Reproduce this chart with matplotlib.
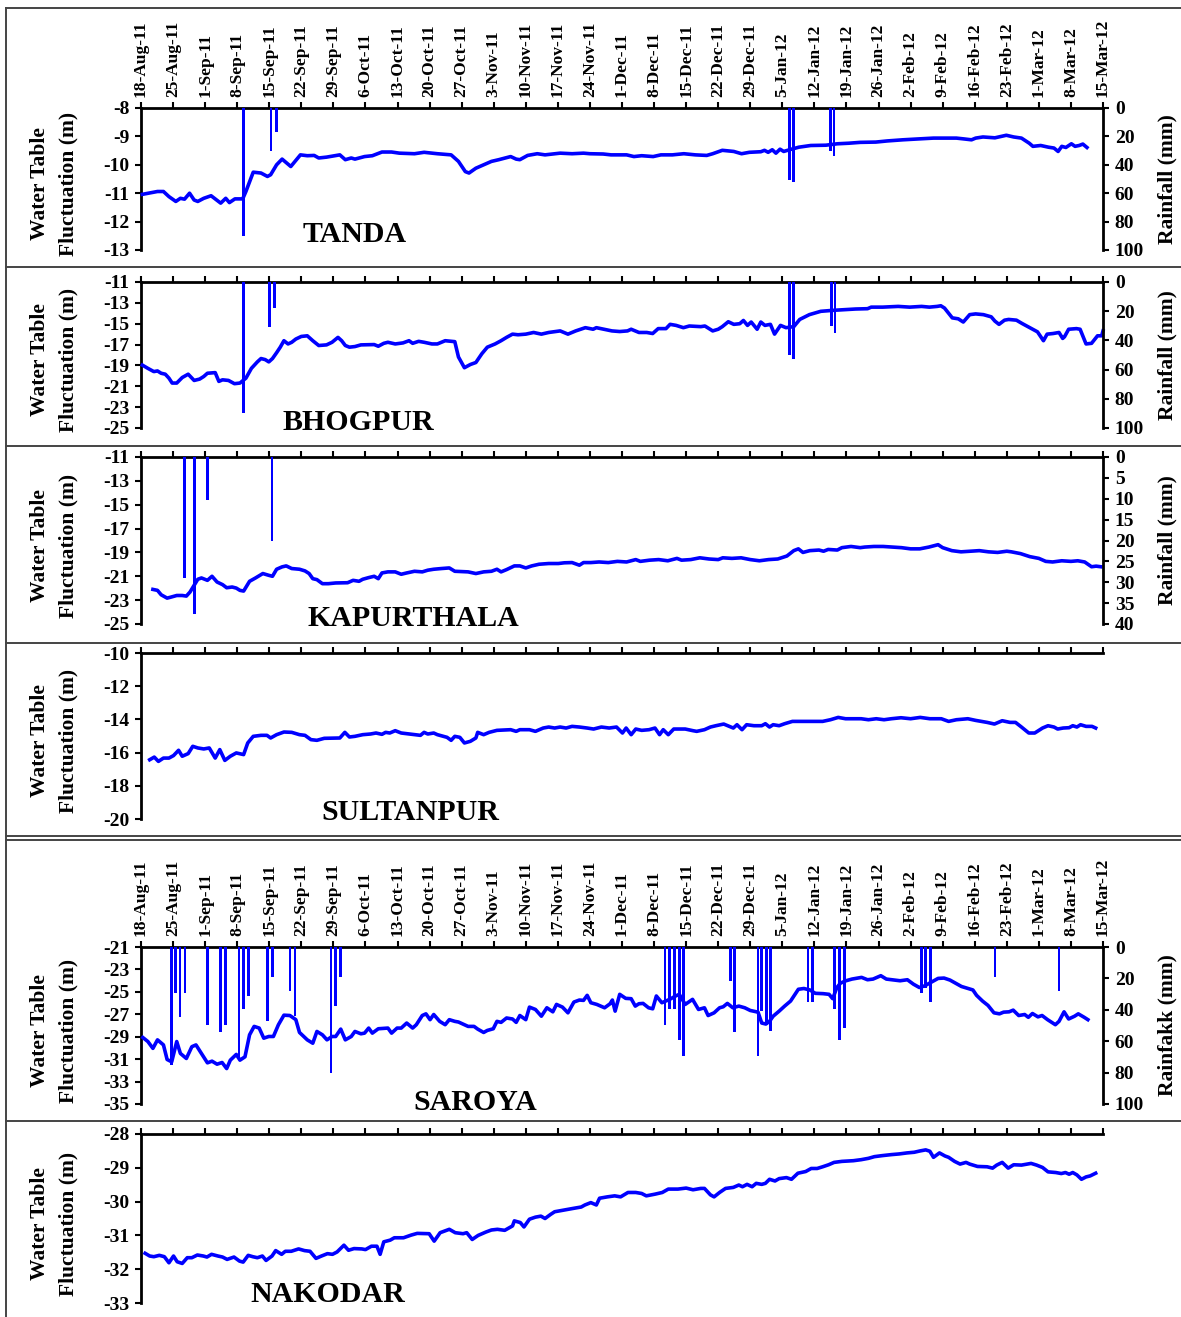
import numpy as np
import matplotlib
matplotlib.use("Agg")
import matplotlib.pyplot as plt
from matplotlib.lines import Line2D

# weekly date ticks (days counted from 18-Aug-2011)
week_labels = ["18-Aug-11", "25-Aug-11", "1-Sep-11", "8-Sep-11", "15-Sep-11", "22-Sep-11",
               "29-Sep-11", "6-Oct-11", "13-Oct-11", "20-Oct-11", "27-Oct-11", "3-Nov-11",
               "10-Nov-11", "17-Nov-11", "24-Nov-11", "1-Dec-11", "8-Dec-11", "15-Dec-11",
               "22-Dec-11", "29-Dec-11", "5-Jan-12", "12-Jan-12", "19-Jan-12", "26-Jan-12",
               "2-Feb-12", "9-Feb-12", "16-Feb-12", "23-Feb-12", "1-Mar-12", "8-Mar-12",
               "15-Mar-12"]
week_days = [7 * i for i in range(len(week_labels))]

# ---- TANDA ----
tanda_day = [0.3, 3.6, 4.9, 6.1, 7.6, 8.6, 9.5, 10.6, 11.6, 12.4, 13.7, 15.3, 17.4, 18.5, 19.3, 20.5,
             22.2, 22.9, 24.5, 26.2, 27.6, 28.3, 29.6, 30.8, 32.7, 34.8, 36.3, 37.8, 38.8, 40.5, 43.4,
             44.6, 45.9, 46.7, 48.8, 50.5, 52.6, 54.7, 56.4, 59.7, 61.8, 64.7, 67.7, 69.3, 70.8, 71.6,
             73.1, 74.8, 76.5, 78.1, 80.7, 81.9, 82.7, 84.4, 86.5, 88.2, 91.5, 94.1, 96.6, 98.0, 100.9,
             102.6, 106.0, 107.6, 109.3, 111.8, 113.5, 116.0, 118.5, 121.0, 123.5, 124.8, 126.9, 129.4,
             131.1, 132.8, 135.3, 136.1, 136.9, 137.8, 138.6, 139.5, 140.3, 142.0, 143.6, 146.2, 149.5,
             152.0, 154.5, 157.0, 160.4, 162.9, 166.3, 169.6, 173.0, 178.0, 179.7, 181.3, 182.2, 183.8,
             186.4, 188.9, 190.5, 192.2, 193.9, 194.7, 196.4, 198.1, 199.3, 200.2, 201.0, 201.9, 203.1,
             203.9, 204.8, 205.6, 206.5]
tanda_wt = [-11.04, -10.94, -10.94, -11.12, -11.29, -11.18, -11.21, -11.00, -11.24, -11.29, -11.18,
            -11.09, -11.35, -11.18, -11.33, -11.20, -11.20, -10.94, -10.26, -10.29, -10.41, -10.35,
            -10.00, -9.80, -10.06, -9.65, -9.68, -9.67, -9.76, -9.73, -9.65, -9.82, -9.76, -9.80,
            -9.71, -9.68, -9.55, -9.55, -9.59, -9.61, -9.56, -9.61, -9.65, -9.88, -10.24, -10.29,
            -10.12, -10.00, -9.88, -9.82, -9.71, -9.80, -9.82, -9.67, -9.61, -9.65, -9.59, -9.61,
            -9.59, -9.61, -9.62, -9.65, -9.65, -9.71, -9.68, -9.71, -9.65, -9.65, -9.61, -9.65,
            -9.67, -9.61, -9.49, -9.53, -9.61, -9.56, -9.54, -9.49, -9.56, -9.47, -9.59, -9.45,
            -9.53, -9.45, -9.38, -9.32, -9.31, -9.26, -9.24, -9.21, -9.20, -9.16, -9.12, -9.09,
            -9.06, -9.06, -9.09, -9.12, -9.06, -9.02, -9.05, -8.96, -9.02, -9.06, -9.24, -9.35,
            -9.32, -9.38, -9.41, -9.53, -9.35, -9.39, -9.26, -9.35, -9.32, -9.27, -9.39]
tanda_rain_day = [22.4, 28.4, 29.6, 141.5, 142.4, 150.5, 151.3]
tanda_rain = [90, 30, 17, 50.6, 52, 30, 34]

# ---- BHOGPUR ----
bhog_day = [0.3, 1.5, 2.8, 3.6, 4.4, 5.3, 6.1, 6.8, 7.8, 9.0, 10.3, 11.6, 12.8, 13.7, 14.5, 16.2,
            17.0, 17.8, 19.1, 20.4, 21.6, 22.9, 24.1, 25.4, 26.2, 27.1, 27.9, 28.7, 29.6, 30.4, 31.2,
            32.1, 32.9, 33.8, 35.0, 36.3, 37.5, 38.8, 40.5, 41.7, 43.0, 43.8, 44.6, 45.5, 46.7, 48.0,
            50.9, 51.8, 53.0, 53.9, 55.5, 57.2, 58.5, 59.3, 60.6, 61.8, 63.5, 64.7, 66.4, 68.5, 69.3,
            70.6, 71.9, 73.1, 74.4, 75.6, 77.3, 78.6, 79.8, 81.1, 82.3, 84.0, 85.7, 87.4, 89.0, 91.5,
            93.2, 94.9, 97.0, 98.7, 99.4, 101.1, 102.8, 104.5, 106.2, 107.0, 108.7, 110.4, 111.7,
            112.9, 114.6, 115.5, 116.8, 118.4, 119.7, 122.2, 123.1, 124.8, 126.0, 126.9, 128.2,
            129.4, 130.7, 131.5, 132.4, 133.2, 134.5, 135.3, 136.2, 137.4, 138.3, 139.6, 140.8,
            142.5, 143.8, 145.9, 148.4, 151.0, 153.5, 156.0, 158.6, 159.4, 161.9, 165.3, 167.8,
            170.4, 172.1, 173.8, 174.6, 175.4, 177.1, 178.4, 179.5, 180.9, 182.2, 183.9, 185.6,
            186.4, 187.3, 188.5, 189.4, 191.1, 192.3, 194.0, 195.7, 197.0, 197.8, 199.1, 200.4,
            201.2, 201.6, 202.5, 204.2, 205.0, 206.3, 207.5, 208.8, 209.7, 210.0]
bhog_wt = [-18.97, -19.28, -19.59, -19.53, -19.75, -19.84, -20.22, -20.69, -20.69, -20.16,
           -19.84, -20.44, -20.31, -20.06, -19.75, -19.69, -20.53, -20.38, -20.44, -20.75,
           -20.69, -20.22, -19.28, -18.66, -18.34, -18.44, -18.66, -18.34, -17.78, -17.25,
           -16.63, -16.94, -16.78, -16.47, -16.22, -16.16, -16.63, -17.09, -17.03, -16.78,
           -16.31, -16.63, -17.09, -17.25, -17.19, -17.03, -17.00, -17.16, -16.88, -16.78,
           -16.94, -16.84, -16.63, -16.88, -16.69, -16.78, -16.94, -16.94, -16.63, -16.72,
           -18.19, -19.22, -18.91, -18.72, -17.88, -17.25, -16.94, -16.63, -16.31, -16.00,
           -16.06, -16.00, -15.84, -16.00, -15.84, -15.69, -16.00, -15.69, -15.38, -15.53,
           -15.38, -15.53, -15.69, -15.75, -15.69, -15.53, -15.84, -15.84, -15.94, -15.47,
           -15.47, -15.06, -15.16, -15.38, -15.22, -15.28, -15.22, -15.69, -15.53, -15.28,
           -14.81, -15.06, -15.00, -14.69, -15.16, -14.84, -15.53, -14.84, -15.16, -15.06,
           -16.00, -15.16, -15.38, -15.28, -14.59, -14.13, -13.81, -13.72, -13.66, -13.59,
           -13.56, -13.41, -13.41, -13.34, -13.41, -13.34, -13.41, -13.34, -13.28, -13.50,
           -14.44, -14.53, -14.84, -14.13, -14.06, -14.13, -14.34, -14.75, -15.06, -14.66,
           -14.59, -14.66, -14.97, -15.38, -15.78, -16.63, -16.00, -15.94, -15.84, -16.41,
           -16.25, -15.53, -15.47, -15.53, -16.94, -16.88, -16.16, -16.16, -15.69]
bhog_rain_day = [22.4, 28.1, 29.1, 141.5, 142.5, 150.7, 151.5]
bhog_rain = [89.5, 30.6, 17.9, 50.3, 52.6, 30.2, 34.7]

# ---- KAPURTHALA ----
kap_day = [2.6, 3.6, 4.4, 5.7, 6.5, 7.8, 9.0, 9.9, 10.7, 11.6, 12.4, 13.2, 14.5, 15.5, 16.6, 17.8,
           18.7, 19.9, 20.8, 21.6, 22.4, 23.7, 25.0, 26.6, 27.9, 28.7, 29.6, 30.8, 31.7, 32.9, 34.6,
           35.8, 36.7, 37.5, 38.4, 39.6, 40.9, 42.5, 45.1, 46.3, 47.6, 48.4, 49.7, 50.9, 51.8, 52.6,
           53.9, 55.5, 56.8, 58.0, 59.7, 61.4, 62.6, 63.9, 65.6, 67.3, 68.5, 71.4, 73.1, 74.8, 76.5,
           77.7, 78.6, 79.8, 81.5, 82.7, 84.0, 85.3, 86.9, 89.0, 91.1, 92.4, 94.1, 95.7, 96.6, 98.2,
           100, 102, 104, 106, 108, 109, 111, 113, 115, 117, 118, 120, 122, 124, 126, 127, 129, 131,
           133, 135, 137, 139, 141, 142.5, 143.5, 144.5, 146, 148, 149, 150, 152, 153, 155, 157,
           158, 160, 162, 164, 166, 168, 170, 172, 174, 175, 177, 179, 181, 183, 185, 187, 189,
           190, 192, 194, 196, 197.5, 199, 201, 203, 204.5, 206, 207.5, 208.5, 209.5]
kap_wt = [-22.10, -22.18, -22.55, -22.83, -22.75, -22.61, -22.61, -22.66, -22.32, -21.76,
          -21.25, -21.14, -21.34, -21.00, -21.48, -21.70, -21.96, -21.90, -21.99, -22.18,
          -22.24, -21.42, -21.14, -20.77, -20.92, -21.00, -20.41, -20.21, -20.13, -20.35,
          -20.41, -20.55, -20.77, -21.20, -21.28, -21.62, -21.62, -21.56, -21.54, -21.34,
          -21.42, -21.25, -21.11, -21.00, -21.20, -20.72, -20.63, -20.63, -20.83, -20.72,
          -20.58, -20.63, -20.49, -20.41, -20.35, -20.30, -20.58, -20.63, -20.77, -20.63,
          -20.58, -20.41, -20.63, -20.44, -20.13, -20.13, -20.30, -20.13, -19.99, -19.93,
          -19.93, -19.87, -19.85, -20.07, -19.85, -19.85,
          -19.8, -19.85, -19.75, -19.8, -19.6, -19.75, -19.65, -19.6, -19.7, -19.5,
          -19.65, -19.6, -19.45, -19.55, -19.6, -19.45, -19.5, -19.45, -19.6, -19.7,
          -19.6, -19.55, -19.3, -18.85, -18.7, -19.0, -18.85, -18.8, -18.9, -18.75,
          -18.8, -18.6, -18.5, -18.6, -18.55, -18.5, -18.5, -18.55, -18.6, -18.7,
          -18.7, -18.55, -18.35, -18.6, -18.85, -18.95, -18.9, -18.85, -18.95, -19.0,
          -18.9, -18.95, -19.1, -19.35, -19.5, -19.75, -19.8, -19.7, -19.75, -19.7,
          -19.8, -20.2, -20.15, -20.2]
kap_rain_day = [9.5, 11.6, 14.5, 28.6]
kap_rain = [29.1, 37.6, 10.2, 20.1]

# ---- SULTANPUR ----
sul_day = [1.9, 2.9, 3.8, 4.9, 6.1, 7.1, 8.2, 9.0, 10.3, 11.3, 12.4, 13.7, 14.9, 16.2, 17.2, 18.3,
           19.5, 20.8, 22.4, 23.3, 24.5, 26.2, 27.5, 28.3, 29.6, 31.2, 32.9, 34.6, 35.8, 37.1, 38.4,
           40.0, 43.4, 44.5, 45.5, 46.7, 48.4, 50.1, 51.3, 52.6, 53.4, 54.3, 55.5, 56.8, 58.0, 59.7,
           61.0, 61.8, 62.6, 63.9, 64.7, 66.0, 66.8, 67.7, 68.5, 69.6, 70.6, 71.9, 73.1, 73.5, 74.8,
           76.0, 77.7, 80.7, 81.9, 82.7, 84.8, 86.1, 87.8, 89.0, 90.3, 91.5, 92.8, 94.1, 95.7, 97.4,
           98.8, 100.5, 102.2, 103.8, 105.1, 105.9, 107.0, 108.0, 109.3, 110.9, 112.2, 113.2, 114.0,
           115.1, 116.3, 118.8, 120.5, 121.3, 123.0, 124.3, 125.5, 127.2, 128.4, 129.3, 130.1,
           131.2, 132.2, 133.8, 135.5, 136.3, 137.2, 138.0, 139.3, 140.5, 142.2, 148.8, 150.5,
           152.2, 153.8, 157.2, 158.8, 160.5, 162.2, 163.8, 165.9, 168.0, 170.1, 172.2, 174.7,
           176.3, 178.0, 180.5, 182.2, 184.7, 186.3, 188.0, 189.7, 190.9, 192.2, 193.8, 195.1,
           196.8, 198.0, 199.3, 200.1, 201.3, 202.6, 203.4, 204.3, 205.1, 206.3, 207.6, 208.4]
sul_wt = [-16.43, -16.27, -16.53, -16.33, -16.33, -16.18, -15.86, -16.22, -16.06, -15.62,
          -15.72, -15.78, -15.72, -16.33, -15.82, -16.47, -16.22, -16.02, -16.12, -15.42,
          -15.02, -14.96, -14.96, -15.12, -14.92, -14.76, -14.78, -14.92, -14.96, -15.22,
          -15.26, -15.14, -15.12, -14.78, -15.06, -15.02, -14.92, -14.88, -14.82, -14.90,
          -14.78, -14.82, -14.68, -14.82, -14.86, -14.92, -14.96, -14.78, -14.88, -14.82,
          -14.92, -15.02, -15.08, -15.26, -15.02, -15.08, -15.42, -15.32, -15.12, -14.78,
          -14.92, -14.78, -14.66, -14.62, -14.72, -14.62, -14.62, -14.72, -14.52, -14.46,
          -14.52, -14.46, -14.52, -14.42, -14.46, -14.52,
          -14.58, -14.46, -14.52, -14.46, -14.82, -14.52, -14.92, -14.58, -14.66, -14.62,
          -14.52, -14.92, -14.62, -14.92, -14.58, -14.58, -14.68, -14.72, -14.62, -14.46,
          -14.38, -14.28, -14.42, -14.52, -14.32, -14.62, -14.32, -14.38, -14.38, -14.26,
          -14.46, -14.32, -14.38, -14.26, -14.12, -14.12, -14.02, -13.88, -13.96, -13.96,
          -14.02, -13.96, -14.02, -13.96, -13.90, -13.96, -13.88, -13.96, -13.96, -14.12,
          -14.02, -13.96, -14.06, -14.18, -14.28, -14.08, -14.18, -14.18, -14.46, -14.82,
          -14.82, -14.52, -14.38, -14.46, -14.58, -14.52, -14.50, -14.38, -14.46, -14.32,
          -14.42, -14.42, -14.52]

# ---- SAROYA ----
sar_day = [0.4, 1.5, 2.6, 3.6, 4.9, 5.7, 6.7, 7.8, 8.6, 9.9, 11.1, 12.0, 13.2, 14.5, 15.5, 16.6,
           17.7, 18.7, 19.5, 20.8, 21.6, 22.7, 23.7, 24.7, 25.8, 26.8, 27.9, 28.9, 30.0, 31.2, 32.5,
           33.8, 34.6, 36.3, 37.5, 38.4, 39.6, 40.6, 41.7, 42.5, 43.6, 44.6, 45.9, 46.7, 48.0, 48.8,
           49.7, 50.5, 51.8, 53.9, 54.7, 55.9, 56.8, 58.0, 59.3, 60.1, 61.4, 62.2, 63.1, 63.9, 65.2,
           66.4, 67.3, 68.5, 69.3, 70.6, 71.4, 72.7, 73.5, 74.8, 75.6, 76.9, 77.7, 78.6, 79.8, 81.1,
           81.9, 82.7, 84.0, 84.8, 86.1, 87.4, 88.6, 89.9, 90.7, 92.0, 93.2, 94.5, 95.7, 96.6, 97.4,
           98.2, 99.5,
           101.2, 102.4, 102.9, 103.5, 104.5, 105.8, 107.0, 107.9, 108.7, 109.6, 110.8, 111.7,
           112.5, 113.7, 115.4, 116.7, 117.5, 118.8, 120.4, 121.7, 123.0, 123.8, 125.1, 126.3,
           127.1, 128.0, 129.2, 130.5, 131.8, 133.0, 134.7, 135.5, 136.4, 137.2, 138.0, 139.3,
           140.5, 141.8, 143.5, 144.7, 146.0, 147.2, 148.9, 150.2, 151.0, 151.9, 152.7, 153.9,
           155.2, 157.3, 158.6, 159.8, 161.5, 162.7, 165.7, 167.3, 168.6, 169.9, 171.1, 172.4,
           174.0, 175.3, 176.6, 177.8, 179.1, 180.3, 181.6, 182.4, 183.7, 184.9, 186.2, 187.4,
           188.3, 189.5, 190.4, 191.6, 192.9, 193.7, 194.6, 195.8, 196.7, 197.9, 199.6, 200.4,
           201.5, 202.5, 203.8, 204.6, 205.9, 206.7]
sar_wt = [-29.07, -29.43, -30.04, -29.28, -29.73, -31.03, -31.24, -29.43, -30.49, -30.94,
          -29.89, -29.73, -30.49, -31.33, -31.18, -31.45, -31.30, -31.84, -31.09, -30.58,
          -31.09, -30.79, -28.83, -28.08, -28.23, -29.13, -28.98, -28.98, -27.93, -27.08,
          -27.11, -27.48, -28.62, -29.28, -29.58, -28.53, -28.83, -29.28, -28.98, -28.98,
          -28.32, -29.28, -28.98, -28.53, -28.74, -28.68, -28.23, -28.68, -28.29, -28.23,
          -28.68, -28.23, -28.23, -27.78, -28.23, -27.93, -27.11, -26.96, -27.48, -27.02,
          -27.63, -27.93, -27.48, -27.63, -27.69, -27.93, -28.08, -28.08, -28.32, -28.62,
          -28.44, -28.29, -27.63, -27.72, -27.33, -27.42, -27.72, -27.11, -27.48, -26.36,
          -26.57, -27.17, -26.42, -26.78, -26.12, -26.36, -26.87, -25.91, -25.73, -25.76,
          -25.31, -25.97, -26.12,
          -26.42, -26.06, -25.73, -26.72, -25.22, -25.58, -25.61, -26.27, -26.06, -26.03,
          -26.42, -26.51, -25.37, -25.97, -25.67, -25.37, -25.22, -26.12, -25.67, -26.57,
          -26.42, -27.11, -26.87, -26.42, -26.33, -26.03, -26.42, -26.27, -26.42, -26.66,
          -26.81, -27.78, -27.87, -27.63, -27.17, -26.72, -26.27, -25.82, -24.77, -24.70,
          -24.83, -25.13, -25.16, -25.22, -25.61, -24.61, -24.22, -24.01, -23.86, -23.71,
          -23.92, -23.86, -23.56, -23.86, -24.01, -23.92, -24.31, -24.61, -24.46, -24.16,
          -23.80, -23.77, -23.95, -24.22, -24.52, -24.67, -24.83, -25.31, -25.82, -26.21,
          -26.87, -26.96, -26.81, -26.78, -26.63, -27.11, -27.02, -27.27, -26.93, -27.23,
          -27.11, -27.48, -27.93, -27.63, -26.78, -27.42, -27.17, -26.96, -27.27, -27.48]
sar_rain_day = [6.7, 7.6, 8.5, 9.6, 14.5, 17.4, 18.5, 21.4, 22.4, 23.5, 27.6, 28.7, 32.5, 33.6,
                41.5, 42.5, 43.6, 114.4, 115.4, 116.5, 117.5, 118.5, 128.7, 129.5, 134.7, 135.5,
                136.5, 137.4, 145.6, 146.6, 151.4, 152.4, 153.5, 170.3, 171.3, 172.4, 186.4, 200.4]
sar_rain = [75, 29.0, 44.3, 29.0, 49.5, 54.4, 49.5, 70, 39.8, 31.2, 47.3, 19.4, 27.9, 44.1,
            80, 37.6, 19.4, 49.5, 39.8, 39.8, 59.1, 69.5, 21.5, 54.4, 69.5, 40.9,
            49.5, 53.8, 35.1, 35.1, 39.8, 59.1, 51.6, 29.5, 26.2, 35.1, 19.4, 28.0]

# ---- NAKODAR ----
nak_day = [0.9, 1.9, 2.8, 4.0, 5.1, 6.1, 7.1, 7.9, 9.0, 10.1, 11.1, 12.3, 13.6, 14.4, 15.4, 16.8,
           17.8, 18.8, 20.3, 21.5, 22.3, 23.4, 24.4, 25.4, 26.5, 27.3, 28.6, 29.4, 30.7, 31.5, 32.8,
           34.4, 35.7, 36.9, 38.2, 39.4, 40.7, 41.8, 42.8, 44.3, 45.3, 46.5, 48.2, 49.0, 50.3, 51.5,
           52.2, 53.0, 54.4, 55.3, 57.3, 59.0, 60.3, 62.9, 64.0, 65.3, 67.3, 68.6, 70.3, 71.1, 72.3,
           73.6, 75.3, 76.5, 77.8, 79.4, 81.1, 81.5, 82.8, 83.6, 84.8, 86.1, 87.3, 88.2, 89.4, 90.3,
           91.9, 93.2, 94.4, 96.1, 96.9, 98.2, 99.4,
           100.1, 101.8, 103.4, 104.7, 106.3, 108.0, 109.3, 110.3, 112.2, 113.8, 115.1, 117.2,
           119.0, 120.5, 122.2, 123.0, 124.3, 125.1, 126.3, 127.6, 129.3, 130.5, 131.3, 132.3,
           133.4, 134.3, 135.5, 136.3, 137.2, 138.4, 139.3, 140.9, 142.0, 143.4, 145.1, 146.3,
           147.6, 148.8, 150.1, 151.3, 153.0, 155.5, 157.2, 158.8, 160.1, 161.8, 163.8, 165.5,
           167.2, 168.8, 170.1, 171.3, 172.2, 173.0, 174.3, 175.5, 176.3, 177.6, 178.8, 180.1,
           180.9, 182.6, 184.7, 185.9, 186.8, 188.0, 189.3, 190.5, 192.2, 194.3, 195.5, 196.8,
           198.0, 199.7, 200.9, 201.8, 202.6, 203.4, 204.3, 205.3, 206.3, 207.2, 208.4]
nak_wt = [-31.53, -31.61, -31.63, -31.59, -31.63, -31.81, -31.61, -31.78, -31.83, -31.66,
          -31.66, -31.58, -31.61, -31.64, -31.56, -31.61, -31.64, -31.71, -31.64, -31.76,
          -31.79, -31.59, -31.63, -31.66, -31.61, -31.74, -31.61, -31.45, -31.56, -31.47,
          -31.47, -31.40, -31.45, -31.47, -31.68, -31.61, -31.54, -31.56, -31.49, -31.29,
          -31.44, -31.39, -31.40, -31.42, -31.32, -31.32, -31.56, -31.19, -31.14, -31.07,
          -31.07, -30.99, -30.94, -30.95, -31.17, -30.92, -30.82, -30.92, -30.95, -30.92,
          -31.12, -31.00, -30.90, -30.84, -30.82, -30.85, -30.72, -30.57, -30.62, -30.75,
          -30.52, -30.46, -30.43, -30.50, -30.38, -30.30, -30.26, -30.23, -30.20, -30.16,
          -30.10, -30.03, -30.10,
          -29.90, -29.86, -29.83, -29.86, -29.73, -29.73, -29.76, -29.83, -29.78, -29.73,
          -29.63, -29.63, -29.60, -29.65, -29.61, -29.61, -29.80, -29.86, -29.73, -29.61,
          -29.58, -29.51, -29.56, -29.49, -29.56, -29.46, -29.49, -29.46, -29.34, -29.39,
          -29.32, -29.29, -29.34, -29.16, -29.11, -29.02, -29.02, -28.97, -28.91, -28.84,
          -28.81, -28.79, -28.76, -28.72, -28.67, -28.64, -28.61, -28.59, -28.56, -28.54,
          -28.50, -28.47, -28.51, -28.69, -28.56, -28.65, -28.69, -28.81, -28.89, -28.84,
          -28.89, -28.96, -28.97, -29.01, -28.92, -28.84, -29.01, -28.91, -28.92, -28.87,
          -28.92, -28.99, -29.12, -29.14, -29.17, -29.14, -29.19, -29.14, -29.21, -29.34,
          -29.27, -29.24, -29.16]

plt.rcParams["font.family"] = ["Liberation Serif", "DejaVu Serif"]
plt.rcParams["font.weight"] = "bold"
plt.rcParams["axes.unicode_minus"] = False

W, H = 1181, 1317
X0, X1 = 141, 1103
fig = plt.figure(figsize=(W / 100, H / 100), dpi=100)


def fx(px):
    return px / W


def fy(py):
    return 1 - py / H


def draw_panel(top, bottom, days, wt, y_hi, y_lo, y_step, name, name_xy,
               rain_day=None, rain=None, rain_max=None, rain_step=None,
               rain_label="Rainfall (mm)", dates=False):
    ax = fig.add_axes([fx(X0), fy(bottom), fx(X1 - X0), (bottom - top) / H])
    n = min(len(days), len(wt))
    ax.plot(days[:n], wt[:n], color="#0000ff", lw=2.6, zorder=3, clip_on=False)
    ax.set_xlim(0, 210)
    ax.set_ylim(y_lo, y_hi)
    ax.set_yticks(list(range(y_hi, y_lo - 1, -y_step)))
    ax.set_yticklabels([str(v) for v in range(y_hi, y_lo - 1, -y_step)])
    ax.spines["bottom"].set_visible(False)
    ax.spines["right"].set_visible(False)
    ax.spines["top"].set_linewidth(2)
    ax.spines["left"].set_linewidth(2)
    ax.xaxis.tick_top()
    ax.set_xticks(week_days)
    if dates:
        ax.set_xticklabels(week_labels, rotation=90, fontsize=12.5, fontweight="bold")
    else:
        ax.set_xticklabels([])
    ax.tick_params(axis="x", direction="out", length=4, width=1.5, pad=4)
    ax.tick_params(axis="y", direction="out", length=4.5, width=1.5, pad=4, labelsize=14)

    if rain is not None:
        ax2 = ax.twinx()
        ax2.bar(rain_day, rain, width=0.6, color="#0000ff", zorder=4)
        ax2.set_ylim(rain_max, 0)
        ax2.set_xlim(0, 210)
        ax2.set_yticks(list(range(0, rain_max + 1, rain_step)))
        for s in ("top", "bottom", "left"):
            ax2.spines[s].set_visible(False)
        ax2.spines["right"].set_linewidth(2)
        ax2.tick_params(axis="y", direction="out", length=4.5, width=1.5, pad=4, labelsize=14)
        cy = (top + bottom) / 2
        fig.text(fx(1167), fy(cy), rain_label, rotation=90, ha="center", va="center",
                 fontsize=15.5, fontweight="bold")

    cy = (top + bottom) / 2 + 5
    fig.text(fx(40), fy(cy), "Water Table", rotation=90, ha="center", va="center",
             fontsize=15.5, fontweight="bold")
    fig.text(fx(68), fy(cy), "Fluctuation (m)", rotation=90, ha="center", va="center",
             fontsize=15.5, fontweight="bold")
    fig.text(fx(name_xy[0]), fy(name_xy[1]), name, ha="center", va="center",
             fontsize=21.5, fontweight="bold")
    return ax


draw_panel(108, 250, tanda_day, tanda_wt, -8, -13, 1, "TANDA", (355, 235),
           tanda_rain_day, tanda_rain, 100, 20, dates=True)
draw_panel(282, 428, bhog_day, bhog_wt, -11, -25, 2, "BHOGPUR", (358, 422),
           bhog_rain_day, bhog_rain, 100, 20)
draw_panel(457, 624, kap_day, kap_wt, -11, -25, 2, "KAPURTHALA", (413, 618),
           kap_rain_day, kap_rain, 40, 5)
draw_panel(653, 819, sul_day, sul_wt, -10, -20, 2, "SULTANPUR", (410, 812))
draw_panel(947, 1104, sar_day, sar_wt, -21, -35, 2, "SAROYA", (475, 1102),
           sar_rain_day, sar_rain, 100, 20, rain_label="Rainfakk (mm)", dates=True)
draw_panel(1134, 1303, nak_day, nak_wt, -28, -33, 1, "NAKODAR", (328, 1295))

# panel frames
for y in (8, 267, 446, 643, 836, 840, 1121):
    fig.add_artist(Line2D([fx(6), 1], [fy(y), fy(y)], color="#444444", lw=1.4))
fig.add_artist(Line2D([fx(6), fx(6)], [fy(8), 0], color="#444444", lw=1.4))

fig.savefig("out.png", dpi=100)
